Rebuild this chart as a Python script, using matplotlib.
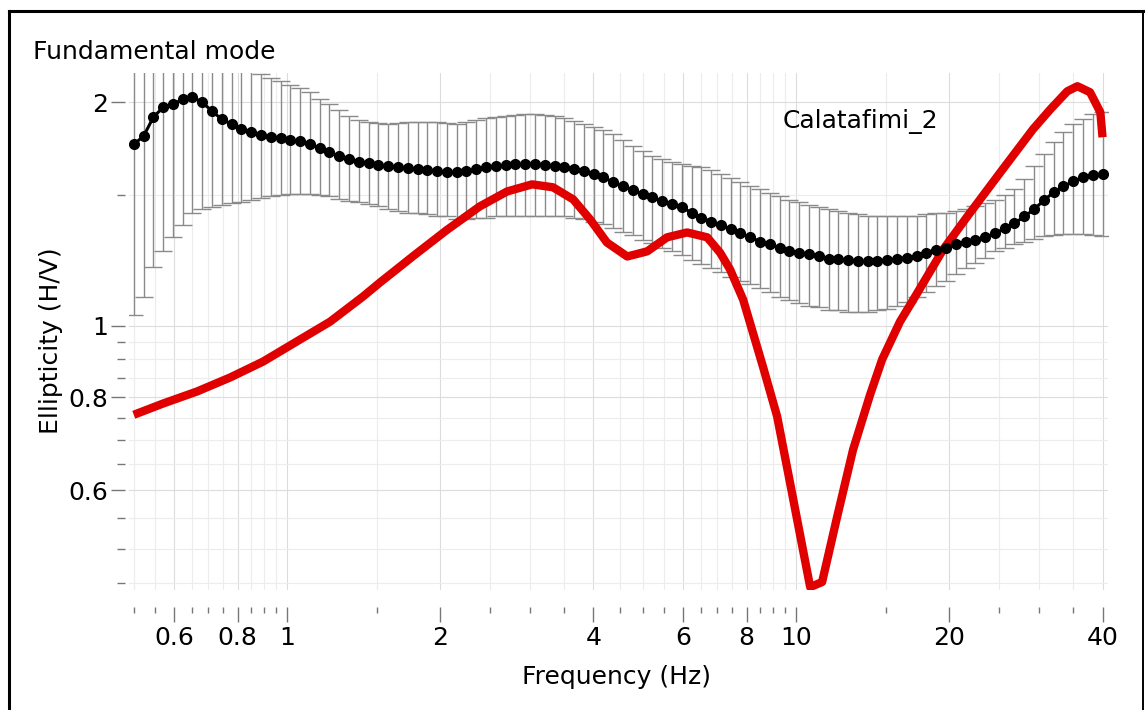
import numpy as np
import matplotlib
matplotlib.use('Agg')
import matplotlib.pyplot as plt
from matplotlib.lines import Line2D

# frequency sampling of the ellipticity curves (log spaced, 100 samples)
freq = np.geomspace(0.5, 40, 100)

# average measured ellipticity (black dots)
mean_ell = [
    1.755, 1.800, 1.909, 1.969, 1.988, 2.018, 2.031, 2.000, 1.945, 1.897,
    1.867, 1.839, 1.822, 1.805, 1.794, 1.788, 1.777, 1.771, 1.755, 1.734,
    1.712, 1.691, 1.675, 1.660, 1.655, 1.644, 1.639, 1.634, 1.629, 1.624,
    1.619, 1.614, 1.609, 1.609, 1.614, 1.624, 1.634, 1.639, 1.644, 1.650,
    1.650, 1.650, 1.644, 1.639, 1.634, 1.624, 1.614, 1.599, 1.584, 1.560,
    1.540, 1.521, 1.503, 1.488, 1.470, 1.457, 1.443, 1.420, 1.398, 1.381,
    1.365, 1.348, 1.331, 1.315, 1.298, 1.286, 1.274, 1.262, 1.254, 1.247,
    1.239, 1.231, 1.228, 1.224, 1.220, 1.220, 1.220, 1.224, 1.231, 1.235,
    1.239, 1.254, 1.266, 1.274, 1.286, 1.298, 1.306, 1.315, 1.331, 1.352,
    1.373, 1.403, 1.434, 1.475, 1.512, 1.540, 1.564, 1.584, 1.594, 1.599,
]

# upper end of the error bars
upper_ell = [
    3.000, 2.900, 2.800, 2.700, 2.600, 2.550, 2.500, 2.450, 2.400, 2.350,
    2.300, 2.260, 2.220, 2.182, 2.154, 2.135, 2.108, 2.089, 2.063, 2.018,
    1.988, 1.951, 1.915, 1.891, 1.879, 1.873, 1.867, 1.873, 1.879, 1.879,
    1.879, 1.879, 1.873, 1.867, 1.879, 1.891, 1.903, 1.909, 1.915, 1.921,
    1.927, 1.927, 1.921, 1.915, 1.903, 1.885, 1.867, 1.850, 1.833, 1.811,
    1.777, 1.744, 1.718, 1.691, 1.675, 1.660, 1.650, 1.639, 1.634, 1.619,
    1.599, 1.579, 1.560, 1.540, 1.526, 1.507, 1.493, 1.475, 1.466, 1.452,
    1.443, 1.434, 1.425, 1.416, 1.412, 1.407, 1.403, 1.403, 1.403, 1.407,
    1.407, 1.412, 1.416, 1.420, 1.429, 1.438, 1.447, 1.461, 1.475, 1.498,
    1.526, 1.574, 1.639, 1.701, 1.766, 1.822, 1.867, 1.897, 1.927, 1.939,
]

# lower end of the error bars
lower_ell = [
    1.032, 1.091, 1.201, 1.259, 1.315, 1.365, 1.420, 1.434, 1.443, 1.452,
    1.461, 1.466, 1.475, 1.484, 1.493, 1.498, 1.503, 1.503, 1.503, 1.498,
    1.493, 1.479, 1.470, 1.466, 1.457, 1.447, 1.434, 1.425, 1.420, 1.416,
    1.412, 1.407, 1.403, 1.394, 1.394, 1.398, 1.398, 1.403, 1.403, 1.407,
    1.407, 1.407, 1.407, 1.403, 1.403, 1.398, 1.390, 1.381, 1.369, 1.352,
    1.335, 1.323, 1.306, 1.290, 1.274, 1.262, 1.243, 1.224, 1.209, 1.194,
    1.179, 1.164, 1.150, 1.136, 1.122, 1.108, 1.094, 1.081, 1.071, 1.064,
    1.058, 1.051, 1.048, 1.044, 1.044, 1.044, 1.048, 1.054, 1.064, 1.077,
    1.094, 1.111, 1.129, 1.150, 1.172, 1.194, 1.216, 1.235, 1.259, 1.274,
    1.286, 1.298, 1.310, 1.319, 1.323, 1.327, 1.327, 1.327, 1.323, 1.319,
]

# theoretical ellipticity of the model (red curve)
model_freq = [0.50, 0.571, 0.666, 0.773, 0.897, 1.046, 1.215, 1.41, 1.523, 1.645,
              1.768, 2.06, 2.39, 2.705, 3.03, 3.33, 3.65, 3.94, 4.25, 4.66,
              5.10, 5.58, 6.11, 6.69, 7.09, 7.42, 7.87, 8.61, 9.18, 9.73,
              10.32, 10.66, 11.25, 12.04, 12.94, 13.98, 14.76, 16.0, 17.0, 19.45,
              21.7, 25.2, 29.2, 31.6, 34.1, 35.7, 37.8, 39.6, 40.0]
model_ell = [0.758, 0.785, 0.815, 0.851, 0.894, 0.952, 1.012, 1.094, 1.143, 1.192,
             1.240, 1.345, 1.447, 1.516, 1.550, 1.536, 1.479, 1.390, 1.294, 1.239,
             1.259, 1.315, 1.335, 1.315, 1.254, 1.190, 1.084, 0.880, 0.754, 0.614,
             0.498, 0.444, 0.451, 0.552, 0.680, 0.807, 0.900, 1.012, 1.084, 1.266,
             1.403, 1.609, 1.839, 1.957, 2.069, 2.102, 2.063, 1.939, 1.794]

x_major = [0.6, 0.8, 1, 2, 4, 6, 8, 10, 20, 40]
x_major_labels = ['0.6', '0.8', '1', '2', '4', '6', '8', '10', '20', '40']
x_minor = [0.5, 0.55, 0.65, 0.7, 0.75, 0.85, 0.9, 0.95, 1.5, 2.5, 3, 3.5,
           4.5, 5, 5.5, 6.5, 7, 7.5, 8.5, 9, 9.5, 15, 25, 30, 35]
y_major = [0.6, 0.8, 1, 2]
y_major_labels = ['0.6', '0.8', '1', '2']
y_minor = [0.45, 0.5, 0.55, 0.65, 0.7, 0.75, 0.85, 0.9, 0.95, 1.5]

W, H = 1145, 710
fig = plt.figure(figsize=(W / 100, H / 100), dpi=100)
ax = fig.add_axes([129.3 / W, 120 / H, 978.7 / W, 517 / H])

ax.set_xscale('log')
ax.set_yscale('log')
ax.set_xlim(0.49, 41)
ax.set_ylim(0.44, 2.19)

mean_a = np.array(mean_ell)
yerr = [mean_a - np.array(lower_ell), np.array(upper_ell) - mean_a]
ax.errorbar(freq, mean_ell, yerr=yerr, fmt='none', ecolor='#8a8a8a',
            elinewidth=1.0, capsize=6.5, capthick=1.0, zorder=2)
ax.plot(model_freq, model_ell, color='#e00000', lw=6, zorder=3,
        solid_joinstyle='round', solid_capstyle='butt')
ax.plot(freq, mean_ell, '-o', color='black', lw=2.2, ms=7, zorder=4)

# ticks
ax.set_xticks(x_major)
ax.set_xticklabels(x_major_labels)
ax.set_xticks(x_minor, minor=True)
ax.set_xticklabels([], minor=True)
ax.set_yticks(y_major)
ax.set_yticklabels(y_major_labels)
ax.set_yticks(y_minor, minor=True)
ax.set_yticklabels([], minor=True)

for s in ['top', 'right', 'left', 'bottom']:
    ax.spines[s].set_visible(False)
ax.spines['left'].set_position(('outward', 3))
ax.spines['bottom'].set_position(('outward', 12.2))

ax.tick_params(axis='x', which='major', direction='out', length=11, width=1,
               color='#777777', labelsize=18, pad=3)
ax.tick_params(axis='x', which='minor', direction='out', length=4.5, width=1,
               color='#777777')
ax.tick_params(axis='y', which='major', direction='out', length=10, width=1,
               color='#777777', labelsize=18, pad=2)
ax.tick_params(axis='y', which='minor', direction='out', length=6, width=1,
               color='#777777')

ax.grid(True, which='major', color='#dcdcdc', lw=0.8, zorder=0)
ax.grid(True, which='minor', color='#ececec', lw=0.8, zorder=0)
ax.set_axisbelow(True)

ax.set_xlabel('Frequency (Hz)', fontsize=18)
ax.xaxis.label.set_va('center')
ax.xaxis.set_label_coords((617 - 129.3) / 978.7, (590 - 677) / 517)
ax.set_ylabel('Ellipticity (H/V)', fontsize=18)
ax.yaxis.label.set_va('center')
ax.yaxis.set_label_coords((51 - 129.3) / 978.7, (590 - 341) / 517)

fig.text(33 / W, 1 - 52 / H, 'Fundamental mode', fontsize=18, va='center', ha='left')
fig.text(783 / W, 1 - 122 / H, 'Calatafimi_2', fontsize=18, va='center', ha='left')

# frame around the picture (open at the bottom)
top_y = 1 - 11 / H
fig.add_artist(Line2D([9 / W, 9 / W], [0, top_y], transform=fig.transFigure,
                      color='black', lw=2.2))
fig.add_artist(Line2D([9 / W, 1143 / W], [top_y, top_y], transform=fig.transFigure,
                      color='black', lw=2.2))
fig.add_artist(Line2D([1143 / W, 1143 / W], [0, top_y], transform=fig.transFigure,
                      color='black', lw=1.4))

fig.savefig('out.png', dpi=100)
